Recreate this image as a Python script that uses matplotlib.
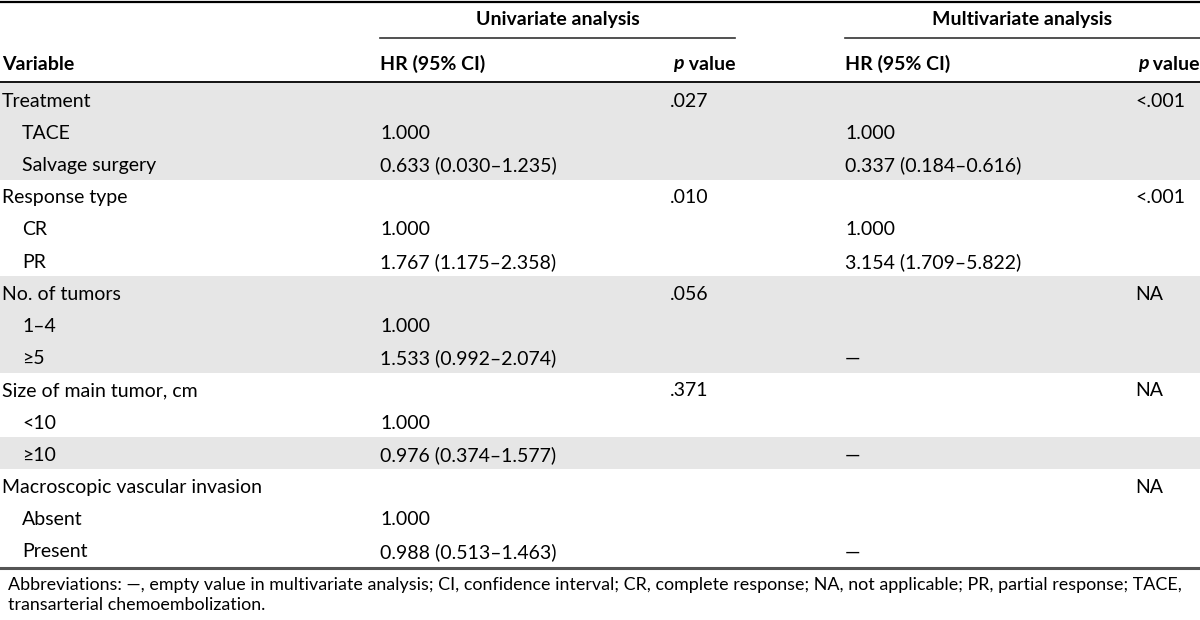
import matplotlib.pyplot as plt
from matplotlib.patches import Rectangle

plt.rcParams['font.family'] = ['Lato', 'DejaVu Sans']

variables = ['Treatment', 'TACE', 'Salvage surgery',
             'Response type', 'CR', 'PR',
             'No. of tumors', '1\u20134', '\u22655',
             'Size of main tumor, cm', '<10', '\u226510',
             'Macroscopic vascular invasion', 'Absent', 'Present']
indent = [0, 1, 1, 0, 1, 1, 0, 1, 1, 0, 1, 1, 0, 1, 1]
uni_hr = ['', '1.000', '0.633 (0.030\u20131.235)',
          '', '1.000', '1.767 (1.175\u20132.358)',
          '', '1.000', '1.533 (0.992\u20132.074)',
          '', '1.000', '0.976 (0.374\u20131.577)',
          '', '1.000', '0.988 (0.513\u20131.463)']
uni_p = ['.027', '', '', '.010', '', '', '.056', '', '',
         '.371', '', '', '', '', '']
multi_hr = ['', '1.000', '0.337 (0.184\u20130.616)',
            '', '1.000', '3.154 (1.709\u20135.822)',
            '', '', '\u2014',
            '', '', '\u2014',
            '', '', '\u2014']
multi_p = ['<.001', '', '', '<.001', '', '', 'NA', '', '',
           'NA', '', '', 'NA', '', '']
shaded = [0, 1, 2, 6, 7, 8, 11]

group_titles = ['Univariate analysis', 'Multivariate analysis']
footnote = ('Abbreviations: \u2014, empty value in multivariate analysis; CI, confidence interval; '
            'CR, complete response; NA, not applicable; PR, partial response; TACE,\n'
            'transarterial chemoembolization.')

fig = plt.figure(figsize=(12, 6.2), dpi=100)
ax = fig.add_axes([0, 0, 1, 1])
ax.set_xlim(0, 1200)
ax.set_ylim(620, 0)
ax.axis('off')

fs = 14
x_var, x_ind = 2, 22
x_hr = [380, 845]
x_p = [670, 1135]
x_end = [735, 1200]
top = 83
rh = 32.2
bottom = top + 15 * rh + 2

for i in shaded:
    ax.add_patch(Rectangle((0, top + i * rh), 1200, rh, color='#e6e6e6', lw=0))

# rules
ax.plot([0, 1200], [1.5, 1.5], color='black', lw=1.6)
ax.plot([0, 1200], [82, 82], color='black', lw=1.3)
ax.plot([0, 1200], [bottom, bottom], color='#555555', lw=2.2)
for k in range(2):
    ax.plot([x_hr[k], x_end[k]], [38, 38], color='#333333', lw=1.2)
    ax.text((x_hr[k] + x_end[k]) / 2, 20, group_titles[k], fontsize=fs,
            fontweight='bold', ha='center', va='center')

# header row
hy = 64
ax.text(x_var, hy, 'Variable', fontsize=fs, fontweight='bold', va='center')
for k in range(2):
    ax.text(x_hr[k], hy, 'HR (95% CI)', fontsize=fs, fontweight='bold', va='center')
    t = ax.text(x_end[k], hy, ' value', fontsize=fs, fontweight='bold', va='center', ha='right')
    ax.annotate('p', xycoords=t, xy=(0, 0.5), fontsize=fs, fontweight='bold',
                fontstyle='italic', va='center', ha='right')

for i, name in enumerate(variables):
    y = top + (i + 0.5) * rh + 2
    ax.text(x_ind if indent[i] else x_var, y, name, fontsize=fs, va='center')
    ax.text(x_hr[0], y, uni_hr[i], fontsize=fs, va='center')
    ax.text(x_p[0], y, uni_p[i], fontsize=fs, va='center')
    ax.text(x_hr[1], y, multi_hr[i], fontsize=fs, va='center')
    ax.text(x_p[1], y, multi_p[i], fontsize=fs, va='center')

ax.text(8, bottom + 9, footnote, fontsize=12.9, va='top', linespacing=1.3)

fig.savefig('out.png', dpi=100)
